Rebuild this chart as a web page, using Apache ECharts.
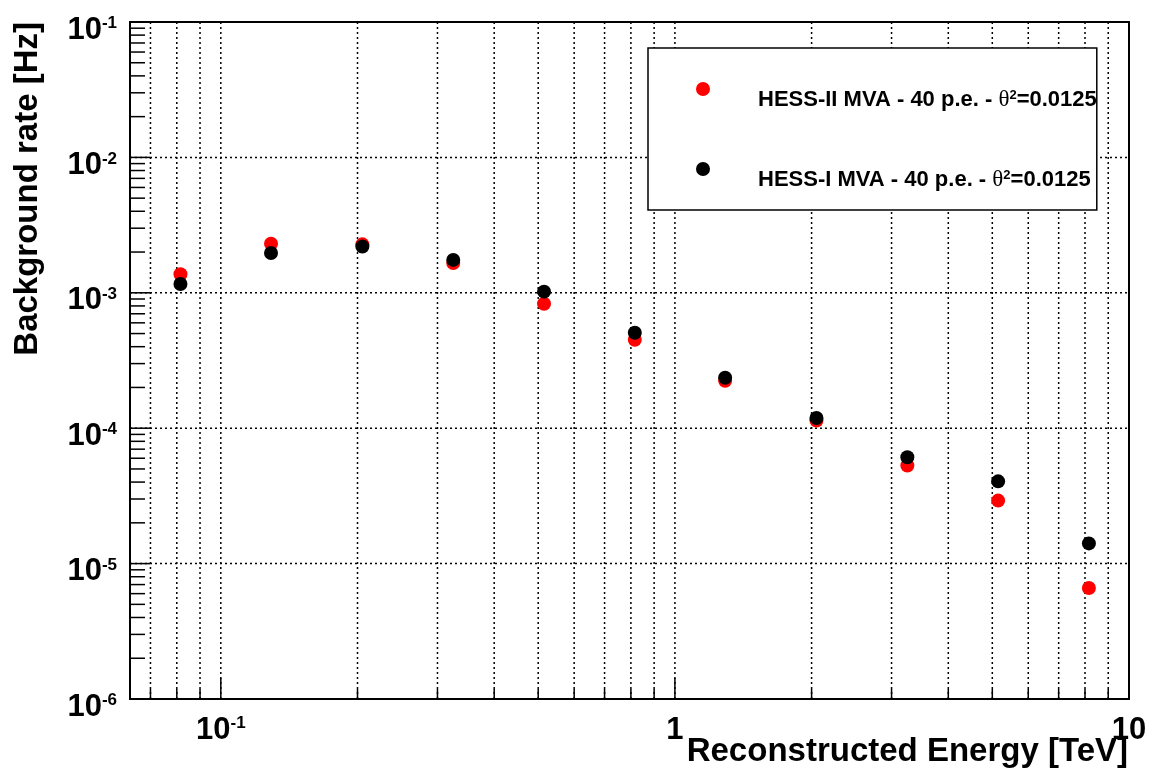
<!DOCTYPE html>
<html><head><meta charset="utf-8">
<script src="https://cdn.jsdelivr.net/npm/echarts@6/dist/echarts.min.js"></script>
<style>html,body{margin:0;padding:0;background:#fff}#c{width:1154px;height:783px}</style>
</head><body><div id="c"></div>
<script>
// ---- data ----
const energies = [0.0815, 0.129, 0.205, 0.325, 0.515, 0.816, 1.29, 2.05, 3.25, 5.15, 8.16];
const hess2Rates = [1.37e-3, 2.30e-3, 2.28e-3, 1.66e-3, 8.3e-4, 4.5e-4, 2.24e-4, 1.14e-4, 5.3e-5, 2.92e-5, 6.6e-6];
const hess1Rates = [1.16e-3, 1.97e-3, 2.20e-3, 1.75e-3, 1.02e-3, 5.07e-4, 2.36e-4, 1.19e-4, 6.1e-5, 4.05e-5, 1.41e-5];
const seriesNames = ['HESS-II MVA - 40 p.e.', 'HESS-I MVA - 40 p.e.'];
const thetaSq = '0.0125';
const xRange = [0.0631, 10];
const yRange = [1e-6, 1e-1];
const xTitle = 'Reconstructed Energy [TeV]';
const yTitle = 'Background rate [Hz]';

// ---- helpers ----
const FONT = '"Liberation Sans", Arial, Helvetica, sans-serif';
function isDecade(v) { const l = Math.log10(v); return Math.abs(l - Math.round(l)) < 1e-6; }
function logTicks(lo, hi) {
  const out = [];
  for (let k = Math.floor(Math.log10(lo)); k <= Math.ceil(Math.log10(hi)); k++)
    for (let m = 1; m <= 9; m++) {
      const v = m * Math.pow(10, k);
      if (v >= lo * 1.0001 && v <= hi * 0.9999) out.push(v);
    }
  return out;
}
const xTicks = logTicks(xRange[0], xRange[1]);
const yTicks = logTicks(yRange[0], yRange[1]);

const labelRich = {
  b: { fontSize: 31, lineHeight: 31, fontWeight: 'bold', fontFamily: FONT, color: '#000', padding: [9, 0, 0, 0] },
  e: { fontSize: 17, lineHeight: 17, fontWeight: 'bold', fontFamily: FONT, color: '#000', padding: [5, 0, 0, 0], verticalAlign: 'top' }
};
function powLabel(v) {
  if (!isDecade(v)) return '';
  const e = Math.round(Math.log10(v));
  if (e === 0) return '{b|1}';
  if (e === 1) return '{b|10}';
  return '{b|10}{e|' + e + '}';
}
const dotted = { stroke: '#000', lineWidth: 1.5, lineDash: [2, 3] };
const solid = { stroke: '#000', lineWidth: 1.5 };

const chart = echarts.init(document.getElementById('c'), null, { renderer: 'canvas' });
chart.setOption({
  animation: false,
  backgroundColor: '#fff',
  grid: { left: 130, right: 25, top: 22, bottom: 84, show: true, borderColor: '#000', borderWidth: 2,
          backgroundColor: '#fff', containLabel: false, outerBoundsMode: 'none' },
  xAxis: {
    type: 'log', logBase: 10, min: xRange[0], max: xRange[1],
    name: xTitle, nameLocation: 'end', nameGap: 0, nameMoveOverlap: false,
    nameTextStyle: { fontSize: 33, lineHeight: 33, fontWeight: 'bold', fontFamily: FONT, color: '#000',
                     align: 'right', verticalAlign: 'top', padding: [36, 1, 0, 0] },
    axisLine: { show: false }, axisTick: { show: false }, splitLine: { show: false },
    axisLabel: { margin: 11, showMinLabel: true, showMaxLabel: true, hideOverlap: false,
                 formatter: powLabel, rich: labelRich }
  },
  yAxis: {
    type: 'log', logBase: 10, min: yRange[0], max: yRange[1],
    name: yTitle, nameLocation: 'end', nameGap: 0, nameRotate: 90, nameMoveOverlap: false,
    nameTextStyle: { fontSize: 33, lineHeight: 33, fontWeight: 'bold', fontFamily: FONT, color: '#000',
                     align: 'right', verticalAlign: 'bottom', padding: [0, 0, 86, 0] },
    axisLine: { show: false }, axisTick: { show: false }, splitLine: { show: false },
    axisLabel: { margin: 13, padding: [7, 0, 0, 0], showMinLabel: true, showMaxLabel: true, hideOverlap: false,
                 formatter: powLabel, rich: labelRich }
  },
  legend: {
    data: seriesNames, orient: 'vertical', left: 648, top: 48,
    padding: [34, 0, 19, 48], itemGap: 51, itemWidth: 14, itemHeight: 14,
    backgroundColor: '#fff', borderColor: '#000', borderWidth: 1.5, borderRadius: 0,
    icon: 'circle', selectedMode: false,
    formatter: n => '{n|' + n + ' - }{t|θ}{s|2}{n|=' + thetaSq + '}',
    textStyle: {
      padding: [21, 0, 0, 43], color: '#000', fontSize: 22, fontWeight: 'bold', fontFamily: FONT,
      rich: {
        n: { fontSize: 22, lineHeight: 22, fontWeight: 'bold', fontFamily: FONT, color: '#000' },
        t: { fontSize: 23, lineHeight: 22, fontWeight: 'normal', fontFamily: '"Liberation Serif", serif', color: '#000' },
        s: { fontSize: 13, lineHeight: 13, fontWeight: 'bold', fontFamily: FONT, color: '#000', verticalAlign: 'top' }
      }
    }
  },
  series: [
    {
      type: 'custom', silent: true, z: 1, clip: false,
      data: xTicks.map(v => [v, yRange[0]]),
      renderItem(params, api) {
        const v = api.value(0);
        const b = api.coord([v, yRange[0]]), t = api.coord([v, yRange[1]]);
        const major = isDecade(v);
        return { type: 'group', children: [
          { type: 'line', shape: { x1: b[0], y1: b[1], x2: t[0], y2: t[1] }, style: dotted },
          { type: 'line', shape: { x1: b[0], y1: b[1], x2: b[0], y2: b[1] - (major ? 21 : 10) }, style: solid }
        ] };
      }
    },
    {
      type: 'custom', silent: true, z: 1, clip: false,
      data: yTicks.map(v => [xRange[0], v]),
      renderItem(params, api) {
        const v = api.value(1);
        const l = api.coord([xRange[0], v]), r = api.coord([xRange[1], v]);
        const major = isDecade(v);
        const ch = [{ type: 'line', shape: { x1: l[0], y1: l[1], x2: l[0] + (major ? 20 : 15), y2: l[1] }, style: solid }];
        if (major) ch.unshift({ type: 'line', shape: { x1: l[0], y1: l[1], x2: r[0], y2: r[1] }, style: dotted });
        return { type: 'group', children: ch };
      }
    },
    {
      name: seriesNames[0], type: 'scatter', symbol: 'circle', symbolSize: 14, z: 3,
      itemStyle: { color: '#ff0000', opacity: 1 },
      data: energies.map((e, i) => [e, hess2Rates[i]])
    },
    {
      name: seriesNames[1], type: 'scatter', symbol: 'circle', symbolSize: 14, z: 4,
      itemStyle: { color: '#000000', opacity: 1 },
      data: energies.map((e, i) => [e, hess1Rates[i]])
    }
  ]
});
</script>
</body></html>
